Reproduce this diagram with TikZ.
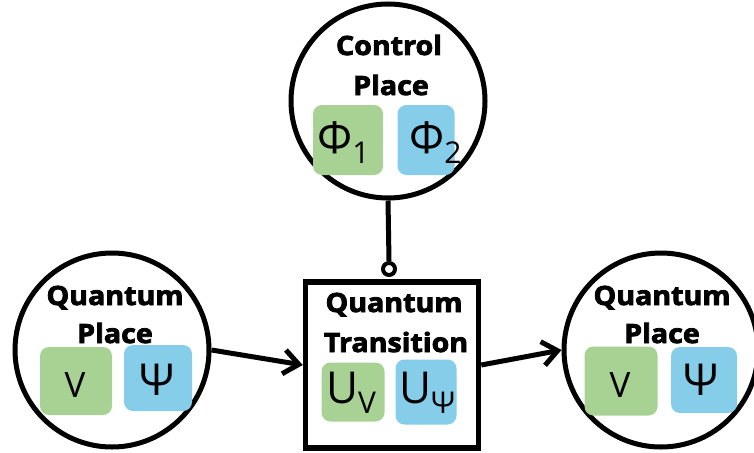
\documentclass[tikz,border=0pt]{standalone}
\usepackage{fontspec}
\setmainfont{Open Sans}
\newfontfamily\lblfont[FakeStretch=1.08, BoldFeatures={FakeBold=3}]{Open Sans}
\usetikzlibrary{arrows.meta}
\definecolor{qgreen}{HTML}{A8D293}
\definecolor{qblue}{HTML}{86CDEA}
\begin{document}
\begin{tikzpicture}[x=1pt,y=-1pt,
  place/.style={circle, draw=black, line width=5pt, minimum size=194pt, inner sep=0pt},
  trans/.style={draw=black, line width=5.5pt, minimum width=173pt, minimum height=166pt, inner sep=0pt},
  ring/.style={circle, draw=black, fill=white, line width=4pt, minimum size=12pt, inner sep=0pt},
  tokg/.style={fill=qgreen, rounded corners=9pt, inner sep=0pt},
  tokb/.style={fill=qblue, rounded corners=9pt, inner sep=0pt},
  lbl/.style={font=\lblfont\fontsize{26.5}{26.5}\selectfont\bfseries, anchor=base, inner sep=0pt},
  sym/.style={font=\fontsize{35}{35}\selectfont, anchor=base, inner sep=0pt},
  psym/.style={font=\fontsize{44}{44}\selectfont, anchor=base, inner sep=0pt},
  bigsym/.style={font=\fontsize{44}{44}\selectfont, anchor=base west, inner sep=0pt},
  conn/.style={line width=5pt},
  arr/.style={conn, -{Straight Barb[length=15pt, width=24pt, line width=5pt]}},
]
\useasboundingbox (0,0) rectangle (754,452);

% places and transition
\node[place] (tc) at (388,101) {};
\node[place] (lc) at (112,350) {};
\node[place] (rc) at (661,350) {};
\node[trans] (sq) at (392,365) {};
\node[ring] (rg) at (389,269) {};

% control place
\node[lbl] (tc1) at (389,55) {Control};
\node[lbl] (tc2) at (391,95) {Place};
\node[tokg, minimum width=70pt, minimum height=70pt] (tcg) at (348,140) {};
\node[tokb, minimum width=57pt, minimum height=70pt] (tcb) at (426,140) {};
\node[bigsym] (tcgs) at (317,153) {Φ\raisebox{-10pt}{\fontsize{30}{30}\selectfont 1}};
\node[bigsym] (tcbs) at (409,153) {Φ\raisebox{-10pt}{\fontsize{30}{30}\selectfont 2}};

% left place
\node[lbl] (lc1) at (115,305) {Quantum};
\node[lbl] (lc2) at (115,343) {Place};
\node[tokg, minimum width=72pt, minimum height=68pt] (lcg) at (76,381) {};
\node[tokb, minimum width=68pt, minimum height=66pt] (lcb) at (158,378) {};
\node[sym] (lcgs) at (75,397) {V};
\node[psym] (lcbs) at (157,395) {Ψ};

% right place
\node[lbl] (rc1) at (662,305) {Quantum};
\node[lbl] (rc2) at (662,343) {Place};
\node[tokg, minimum width=73pt, minimum height=69pt] (rcg) at (621,381) {};
\node[tokb, minimum width=66pt, minimum height=66pt] (rcb) at (704,380) {};
\node[sym] (rcgs) at (620,397) {V};
\node[psym] (rcbs) at (701,395) {Ψ};

% transition
\node[lbl] (sq1) at (394,312) {Quantum};
\node[lbl] (sq2) at (396,352) {Transition};
\node[tokg, minimum width=63pt, minimum height=59pt] (sqg) at (353,392) {};
\node[tokb, minimum width=61pt, minimum height=65pt] (sqb) at (426,392) {};
\node[bigsym] (sqgs) at (326,403) {U\raisebox{-10pt}{\fontsize{30}{30}\selectfont V}};
\node[bigsym] (sqbs) at (399,403) {U\raisebox{-10pt}{\fontsize{30}{30}\selectfont Ψ}};

% connectors
\draw[conn] (tc.south) -- (rg.north);
\draw[arr] (lc.east) -- (sq.west);
\draw[arr] (sq.east) -- (rc.west);
\end{tikzpicture}
\end{document}
